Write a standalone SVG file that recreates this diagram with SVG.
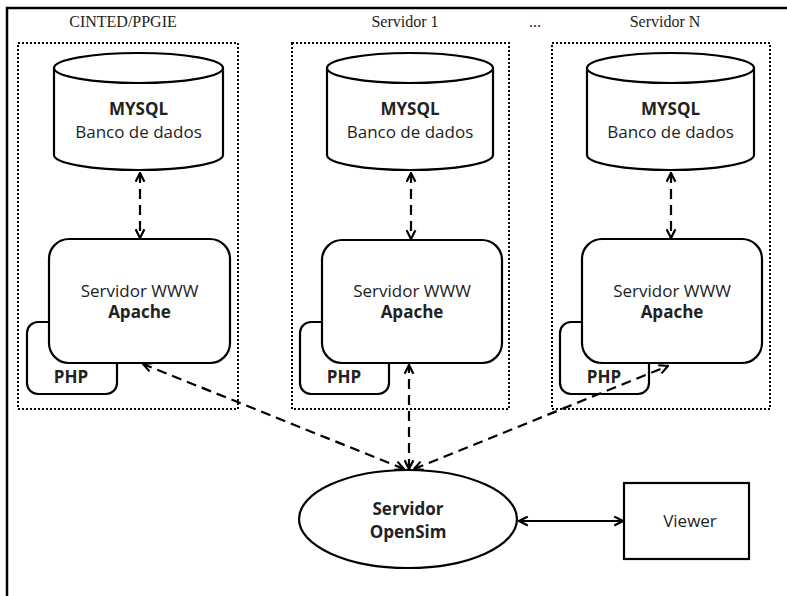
<svg xmlns="http://www.w3.org/2000/svg" width="787" height="596" viewBox="0 0 787 596">
<style>
.frame{fill:none;stroke:#000;stroke-width:2.5}
.group{fill:none;stroke:#000;stroke-width:2;stroke-dasharray:2 2}
.shape{fill:#fff;stroke:#000;stroke-width:2.2}
.dash{fill:none;stroke:#000;stroke-width:2.2;stroke-dasharray:10 6}
.solid{fill:none;stroke:#000;stroke-width:2}
.lbl{font-family:"Liberation Serif",serif;font-size:16px;fill:#222;text-anchor:middle}
.t{font-family:"Open Sans","Liberation Sans",sans-serif;font-size:17px;fill:#222;text-anchor:middle}
.b{font-weight:bold}
</style>
<defs>
<marker id="chev" viewBox="0 0 10 10" refX="9" refY="5" markerWidth="11" markerHeight="11" markerUnits="userSpaceOnUse" orient="auto-start-reverse">
<path d="M1,1 L9,5 L1,9" fill="none" stroke="#000" stroke-width="2" stroke-dasharray="none"/>
</marker>
</defs>
<rect width="787" height="596" fill="#fff"/>
<path class="frame" d="M7,596 L7,8 L787,8"/>

<g id="cinted">
<rect class="group" x="18" y="43" width="220" height="366"/>
<text class="lbl" x="123" y="27">CINTED/PPGIE</text>
</g>
<g id="servidor1">
<rect class="group" x="292" y="43" width="217" height="366"/>
<text class="lbl" x="405" y="27">Servidor 1</text>
</g>
<text class="lbl" x="535" y="27">...</text>
<g id="servidorN">
<rect class="group" x="552" y="43" width="218" height="366"/>
<text class="lbl" x="665" y="27">Servidor N</text>
</g>

<g id="mysql1">
<path class="shape" d="M54,68 L54,155 A84.5,15 0 0 0 223,155 L223,68"/>
<ellipse class="shape" cx="138.5" cy="68" rx="84.5" ry="15"/>
<text class="t b" x="138.5" y="115">MYSQL</text>
<text class="t" x="138.5" y="138">Banco de dados</text>
</g>
<g id="mysql2">
<path class="shape" d="M327,68 L327,155 A83,15 0 0 0 493,155 L493,68"/>
<ellipse class="shape" cx="410" cy="68" rx="83" ry="15"/>
<text class="t b" x="410" y="115">MYSQL</text>
<text class="t" x="410" y="138">Banco de dados</text>
</g>
<g id="mysql3">
<path class="shape" d="M587,68 L587,155 A83.5,15 0 0 0 754,155 L754,68"/>
<ellipse class="shape" cx="670.5" cy="68" rx="83.5" ry="15"/>
<text class="t b" x="670.5" y="115">MYSQL</text>
<text class="t" x="670.5" y="138">Banco de dados</text>
</g>

<g id="php1">
<rect class="shape" x="27" y="322" width="90" height="72" rx="11"/>
<text class="t b" x="71" y="383">PHP</text>
</g>
<g id="apache1">
<rect class="shape" x="49" y="239" width="181" height="124" rx="20"/>
<text class="t" x="139.5" y="297">Servidor WWW</text>
<text class="t b" x="139.5" y="318">Apache</text>
</g>
<g id="php2">
<rect class="shape" x="300" y="322" width="89" height="72" rx="11"/>
<text class="t b" x="344" y="383">PHP</text>
</g>
<g id="apache2">
<rect class="shape" x="322" y="240" width="180" height="123" rx="20"/>
<text class="t" x="412" y="297">Servidor WWW</text>
<text class="t b" x="412" y="318">Apache</text>
</g>
<g id="php3">
<rect class="shape" x="560" y="322" width="89" height="72" rx="11"/>
<text class="t b" x="604" y="383">PHP</text>
</g>
<g id="apache3">
<rect class="shape" x="582" y="239" width="180" height="124" rx="20"/>
<text class="t" x="672" y="297">Servidor WWW</text>
<text class="t b" x="672" y="318">Apache</text>
</g>

<g id="opensim">
<ellipse class="shape" cx="408" cy="519" rx="109" ry="49"/>
<text class="t b" x="408" y="515">Servidor</text>
<text class="t b" x="408" y="538">OpenSim</text>
</g>
<g id="viewer">
<rect class="shape" x="624" y="483" width="125" height="76"/>
<text class="t" x="690" y="527">Viewer</text>
</g>

<g id="connectors">
<line class="dash" x1="140" y1="173" x2="140" y2="238" marker-start="url(#chev)" marker-end="url(#chev)"/>
<line class="dash" x1="411" y1="173" x2="411" y2="239" marker-start="url(#chev)" marker-end="url(#chev)"/>
<line class="dash" x1="671" y1="173" x2="671" y2="238" marker-start="url(#chev)" marker-end="url(#chev)"/>
<line class="dash" x1="404" y1="469" x2="143" y2="364" marker-start="url(#chev)" marker-end="url(#chev)"/>
<line class="dash" x1="409" y1="469" x2="409" y2="365" marker-start="url(#chev)" marker-end="url(#chev)"/>
<line class="dash" x1="414" y1="469" x2="668" y2="366" marker-start="url(#chev)" marker-end="url(#chev)"/>
<line class="solid" x1="519" y1="521" x2="623" y2="521" marker-start="url(#chev)" marker-end="url(#chev)"/>
</g>
</svg>
